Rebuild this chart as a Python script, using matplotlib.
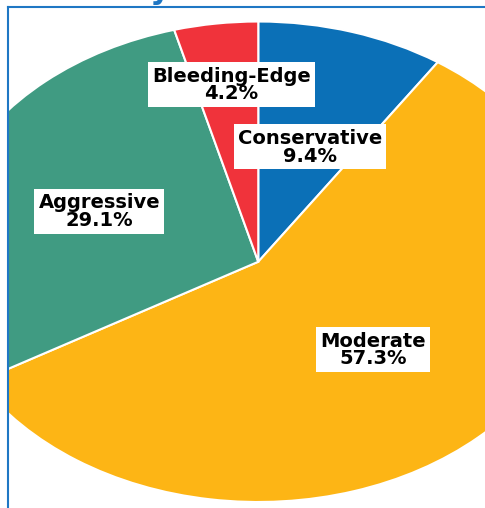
import matplotlib
matplotlib.use("Agg")
import matplotlib.pyplot as plt
import numpy as np

### Données

categories = ["Conservative", "Moderate", "Aggressive", "Bleeding-Edge"]
parts = [9.4, 57.3, 29.1, 4.2]
couleurs = ["#0b70b7", "#fdb515", "#409b82", "#f0333b"]
titre = "Portfolios by Investment Strategy"

### Mise en page

bleu_cadre = "#1f77c4"
dist_labels = [0.5, 0.5, 0.55, 0.745]

fig = plt.figure(figsize=(4.855, 5.085), dpi=100)
# l'axe déborde à droite : pas de bord droit visible
ax = fig.add_axes([8/485, 0, 1.05 - 8/485, 501/508])

wedges, _ = ax.pie(parts, colors=couleurs, startangle=90, counterclock=False,
                   wedgeprops=dict(edgecolor="white", linewidth=1.5))
for w in wedges:
    w.set_clip_on(True)
    w.set_clip_path(ax.patch)

# camembert étiré horizontalement comme sur l'image
ax.set_aspect("auto")
ax.set_xlim(-250/322, (1.05*485 - 258)/322)
ax.set_ylim(-246/240, 255/240)

for w, cat, p, r in zip(wedges, categories, parts, dist_labels):
    ang = np.deg2rad((w.theta1 + w.theta2) / 2)
    ax.text(r*np.cos(ang) + 0.015, r*np.sin(ang), "{}\n{:.1f}%".format(cat, p),
            ha="center", va="center", fontsize=14, fontweight="bold",
            color="black", linespacing=0.9,
            bbox=dict(boxstyle="square,pad=0.22", fc="white", ec="none"))

ax.set_frame_on(True)
ax.set_xticks([])
ax.set_yticks([])
for s in ["right", "bottom"]:
    ax.spines[s].set_visible(False)
for s in ["left", "top"]:
    ax.spines[s].set_visible(True)
    ax.spines[s].set_color(bleu_cadre)
    ax.spines[s].set_linewidth(1.5)
    ax.spines[s].set_zorder(5)

# titre (coupé en haut de l'image)
fig.text(0.5, 1 + 1/508, titre, ha="center", va="baseline",
         fontsize=22, fontweight="bold", color=bleu_cadre)

fig.savefig("out.png", dpi=100)
